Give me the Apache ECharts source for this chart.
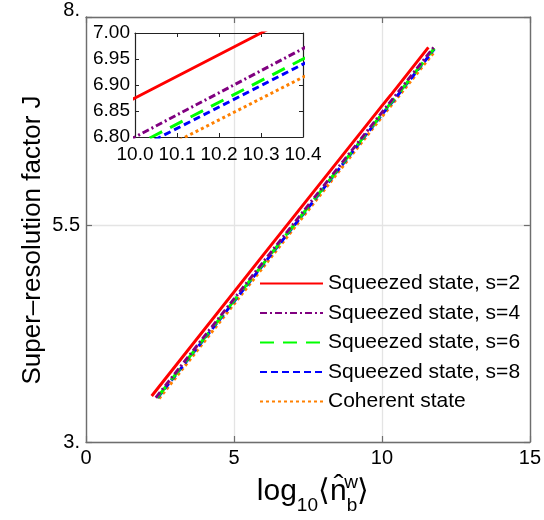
<!DOCTYPE html>
<html><head><meta charset="utf-8">
<script src="https://cdn.jsdelivr.net/npm/echarts@6/dist/echarts.min.js"></script>
<style>html,body{margin:0;padding:0;background:#fff}#c{width:544px;height:520px}</style>
</head><body><div id="c"></div>
<script>
const FF = 'Liberation Sans, Arial, sans-serif';
const seriesNames = ['Squeezed state, s=2','Squeezed state, s=4','Squeezed state, s=6','Squeezed state, s=8','Coherent state'];
const seriesColors = ['#ff0000','#800080','#00ff00','#0000ff','#ff8000'];
const seriesDash = ['solid',[7,3,2,3],[14,9],[7,4],[3,3]];
// log10<n_b^w> values and J values per series
const xS2 = [2.22, 6.00, 10.00, 10.30, 11.57];
const jS2 = [3.53, 5.16, 6.875, 7.00, 7.55];
const xS4 = [2.36, 6.00, 10.00, 10.40, 11.75];
const jS4 = [3.51, 5.08, 6.80, 6.97, 7.55];
const xS6 = [2.40, 6.00, 10.04, 10.40, 11.77];
const jS6 = [3.51, 5.06, 6.80, 6.95, 7.54];
const xS8 = [2.42, 6.00, 10.06, 10.40, 11.77];
const jS8 = [3.51, 5.05, 6.80, 6.94, 7.53];
const xCoh = [2.47, 6.00, 10.12, 10.40, 11.80];
const jCoh = [3.50, 5.02, 6.80, 6.915, 7.51];
const xLists = [xS2, xS4, xS6, xS8, xCoh];
const jLists = [jS2, jS4, jS6, jS8, jCoh];
// axis ticks
const mainXMin = 0, mainXMax = 15, mainXStep = 5;
const mainYMin = 3, mainYMax = 7.9, mainYStep = 2.5;
const mainYTickText = ['3.', '5.5', '8.'];
const insetXMin = 10.0, insetXMax = 10.4, insetXStep = 0.1;
const insetYMin = 6.80, insetYMax = 7.00, insetYStep = 0.05;

const frameColor = '#6e6e6e';
const chart = echarts.init(document.getElementById('c'), null, {renderer:'canvas'});

function mainAxisX(pos, showLabel){
  return {gridIndex:0, type:'value', position:pos, min:mainXMin, max:mainXMax, interval:mainXStep,
    axisLine:{show:true, onZero:false, lineStyle:{color:frameColor, width:1.4}},
    axisTick:{show:true, inside:true, length:6, lineStyle:{color:frameColor, width:1.2}},
    axisLabel:{show:showLabel, fontSize:20, color:'#000', fontFamily:FF, margin:6},
    splitLine:{show:showLabel, lineStyle:{color:'#e4e4e4', width:1.3}}};
}
function mainAxisY(pos, showLabel){
  return {gridIndex:0, type:'value', position:pos, min:mainYMin, max:mainYMax, interval:mainYStep,
    axisLine:{show:true, onZero:false, lineStyle:{color:frameColor, width:1.4}},
    axisTick:{show:true, inside:true, length:6, lineStyle:{color:frameColor, width:1.2}},
    axisLabel:{show:showLabel, fontSize:20, color:'#000', fontFamily:FF, margin:6,
      formatter:function(v){ if (Math.abs(v-3)<1e-6) return mainYTickText[0]; if (Math.abs(v-5.5)<1e-6) return mainYTickText[1]; if (v>7.8) return '{t|'+mainYTickText[2]+'}'; return ''; },
      rich:{t:{fontSize:20, color:'#000', fontFamily:FF, padding:[0,0,14,0]}}},
    splitLine:{show:showLabel, lineStyle:{color:'#e4e4e4', width:1.3}}};
}
function insetAxisX(pos, showLabel){
  return {gridIndex:1, type:'value', position:pos, min:insetXMin, max:insetXMax, interval:insetXStep,
    axisLine:{show:true, onZero:false, lineStyle:{color:'#222', width:1.2}},
    axisTick:{show:true, inside:true, length:4, lineStyle:{color:'#222'}},
    axisLabel:{show:showLabel, fontSize:19, color:'#000', fontFamily:FF, margin:8, formatter:v=>v.toFixed(1)},
    splitLine:{show:false}};
}
function insetAxisY(pos, showLabel){
  return {gridIndex:1, type:'value', position:pos, min:insetYMin, max:insetYMax, interval:insetYStep,
    axisLine:{show:true, onZero:false, lineStyle:{color:'#222', width:1.2}},
    axisTick:{show:true, inside:true, length:4, lineStyle:{color:'#222'}},
    axisLabel:{show:showLabel, fontSize:19, color:'#000', fontFamily:FF, margin:5, formatter:v=>v.toFixed(2)},
    splitLine:{show:false}};
}

const series = [];
[0,1].forEach(function(g){
  seriesNames.forEach(function(name, i){
    series.push({name:name, type:'line', xAxisIndex: g===0?0:2, yAxisIndex: g===0?0:2,
      data: xLists[i].map((x,k)=>[x, jLists[i][k]]), symbol:'none', showSymbol:false, clip:true,
      lineStyle:{color:seriesColors[i], width:3, type:seriesDash[i]}, itemStyle:{color:seriesColors[i]},
      z: 10 - i, silent:true});
  });
});

chart.setOption({
  animation:false,
  backgroundColor:'#fff',
  textStyle:{fontFamily:FF},
  grid:[{left:86, right:12, top:17, bottom:78}, {left:135, top:33, width:168, height:104}],
  xAxis:[mainAxisX('bottom', true), mainAxisX('top', false), insetAxisX('bottom', true), insetAxisX('top', false)],
  yAxis:[mainAxisY('left', true), mainAxisY('right', false), insetAxisY('left', true), insetAxisY('right', false)],
  legend:{orient:'vertical', left:254, top:268, itemWidth:63, itemHeight:20, itemGap:8.5,
    itemStyle:{opacity:0, borderWidth:0},
    textStyle:{fontSize:21, color:'#000', fontFamily:FF, lineHeight:20}, data:seriesNames, selectedMode:false},
  series:series,
  graphic:[
    {type:'text', x:33, y:240, rotation:Math.PI/2, style:{text:'Super\u2013resolution factor J', fontSize:26, fontFamily:FF, fill:'#000', align:'center', verticalAlign:'middle'}},
    {type:'text', x:313, y:492, style:{text:'{a|log}{s|10}{a|\u27E8n\u0302}{s|b}{a|\u27E9}', align:'center', verticalAlign:'middle',
      rich:{a:{fontSize:30, fontFamily:FF, fill:'#000', lineHeight:46, verticalAlign:'middle'},
            s:{fontSize:19, fontFamily:FF, fill:'#000', lineHeight:18, verticalAlign:'bottom'}}}},
    {type:'text', x:351, y:483, style:{text:'w', fontSize:19, fontFamily:FF, fill:'#000', align:'center', verticalAlign:'middle'}}
  ]
});
</script></body></html>
